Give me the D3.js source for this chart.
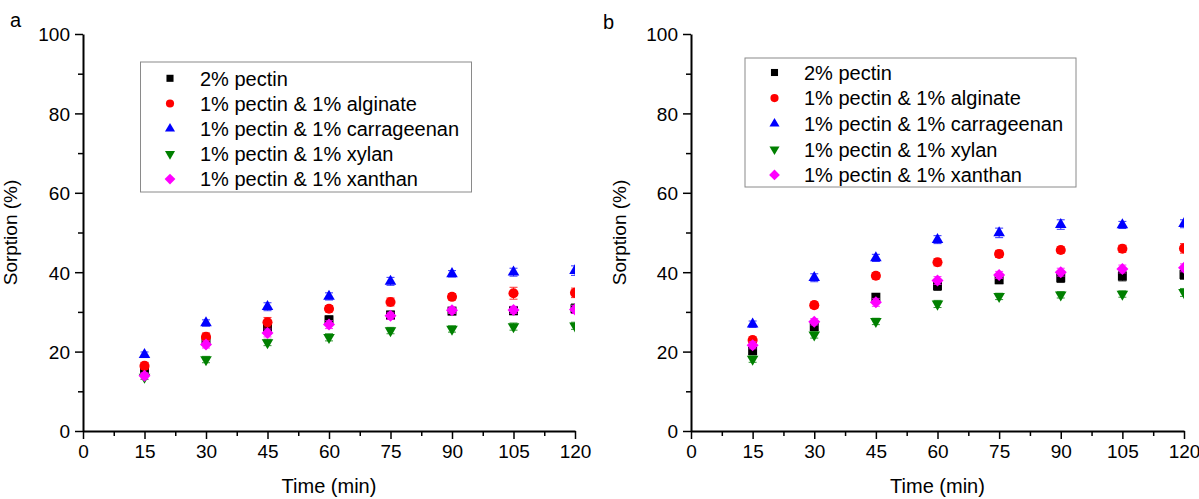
<!DOCTYPE html>
<meta charset="utf-8">
<script src="https://d3js.org/d3.v7.min.js"></script>
<style>
  body { margin: 0; background: #fff; }
  text { font-family: "Liberation Sans", Arial, sans-serif; fill: #000; }
</style>
<div id="chart"></div>
<script>

// ---- data ----
var times = [15, 30, 45, 60, 75, 90, 105, 120];
var seriesNames = ["2% pectin", "1% pectin & 1% alginate", "1% pectin & 1% carrageenan",
                   "1% pectin & 1% xylan", "1% pectin & 1% xanthan"];
var xTicks = [0, 15, 30, 45, 60, 75, 90, 105, 120];
var yTicks = [0, 20, 40, 60, 80, 100];

// panel a
var aPectin      = [15.6, 22.7, 26.1, 28.0, 29.2, 30.2, 30.3, 30.8];
var aAlginate    = [16.4, 23.7, 27.4, 30.8, 32.5, 33.8, 34.7, 34.8];
var aCarrageenan = [19.2, 27.2, 31.3, 33.9, 37.7, 39.6, 40.0, 40.4];
var aXylan       = [13.6, 18.0, 22.3, 23.6, 25.3, 25.7, 26.3, 26.5];
var aXanthan     = [13.9, 21.8, 24.7, 26.8, 29.0, 30.4, 30.5, 30.6];
var aErr = [
  [0.8, 0.9, 1.0, 1.0, 1.0, 0.9, 1.0, 1.2],
  [0.9, 1.0, 1.2, 0.8, 1.0, 0.8, 1.5, 1.2],
  [0.7, 0.8, 1.0, 0.9, 1.0, 0.8, 1.0, 1.2],
  [0.6, 0.8, 0.8, 0.9, 0.8, 0.8, 0.9, 0.9],
  [0.8, 0.9, 1.0, 1.0, 0.9, 0.8, 0.9, 1.0]
];

// panel b
var bPectin      = [20.2, 26.3, 33.7, 36.6, 38.1, 38.6, 39.0, 39.4];
var bAlginate    = [22.9, 31.7, 39.1, 42.5, 44.6, 45.6, 45.9, 46.0];
var bCarrageenan = [26.9, 38.6, 43.6, 48.2, 49.9, 52.0, 51.9, 52.2];
var bXylan       = [18.1, 24.2, 27.6, 32.0, 33.9, 34.3, 34.5, 34.9];
var bXanthan     = [21.6, 27.5, 32.4, 37.9, 39.3, 40.0, 40.8, 41.1];
var bErr = [
  [0.9, 0.9, 0.8, 1.2, 1.0, 1.2, 1.2, 1.2],
  [0.8, 0.8, 0.8, 0.9, 0.9, 0.8, 0.9, 1.2],
  [0.8, 1.0, 0.9, 1.0, 1.2, 1.2, 0.9, 1.0],
  [0.8, 0.8, 0.8, 0.9, 0.8, 0.8, 0.8, 1.0],
  [0.9, 0.8, 1.0, 1.0, 0.9, 1.0, 1.0, 1.0]
];

// ---- styling ----
var colors = ["#000000", "#ff0000", "#0000ff", "#008000", "#ff00ff"];
var shapes = ["square", "circle", "up", "down", "diamond"];

function symbolPath(shape, big) {
  if (shape === "square")  return d3.symbol(d3.symbolSquare, big ? 80 : 50)();
  if (shape === "circle")  return d3.symbol(d3.symbolCircle, big ? 80 : 52)();
  if (shape === "up" || shape === "down") return d3.symbol(d3.symbolTriangle, big ? 58 : 44)();
  return d3.symbol(d3.symbolSquare, big ? 72 : 58)();
}
function symbolRotate(shape) {
  if (shape === "down") return " rotate(180)";
  if (shape === "diamond") return " rotate(45)";
  return "";
}

var svg = d3.select("#chart").append("svg")
    .attr("width", 1199)
    .attr("height", 499);

var panels = [
  { id: "a", series: [aPectin, aAlginate, aCarrageenan, aXylan, aXanthan], err: aErr,
    x0: 83, x1: 575, labelX: 10, labelY: 27, titleX: 17,
    legend: { x: 140.5, y: 62, w: 331, h: 130, mx: 170, tx: 200, row0: 78.3, step: 25.2 } },
  { id: "b", series: [bPectin, bAlginate, bCarrageenan, bXylan, bXanthan], err: bErr,
    x0: 691, x1: 1184, labelX: 603, labelY: 29, titleX: 626,
    legend: { x: 745, y: 58, w: 331, h: 129, mx: 774.5, tx: 804, row0: 72.5, step: 25.6 } }
];

var yTop = 34, yBottom = 431;

panels.forEach(function(p) {
  var x = d3.scaleLinear().domain([0, 120]).range([p.x0, p.x1]);
  var y = d3.scaleLinear().domain([0, 100]).range([yBottom, yTop]);
  var g = svg.append("g");

  // clip to plot area
  svg.append("clipPath").attr("id", "clip-" + p.id)
    .append("rect")
      .attr("x", p.x0).attr("y", 0)
      .attr("width", p.x1 - p.x0).attr("height", yBottom + 5);

  // minor ticks
  g.append("g")
      .attr("transform", "translate(0," + yBottom + ")")
      .call(d3.axisBottom(x).tickValues(d3.range(7.5, 120, 15)).tickSize(5).tickFormat("").tickSizeOuter(0))
      .call(function(s) { s.select(".domain").remove(); s.selectAll("line").attr("stroke-width", 1.5); });
  g.append("g")
      .attr("transform", "translate(" + p.x0 + ",0)")
      .call(d3.axisLeft(y).tickValues(d3.range(10, 100, 20)).tickSize(5).tickFormat("").tickSizeOuter(0))
      .call(function(s) { s.select(".domain").remove(); s.selectAll("line").attr("stroke-width", 1.5); });

  // major axes
  var xa = g.append("g")
      .attr("transform", "translate(0," + yBottom + ")")
      .call(d3.axisBottom(x).tickValues(xTicks).tickSize(8).tickPadding(6).tickSizeOuter(0));
  var ya = g.append("g")
      .attr("transform", "translate(" + p.x0 + ",0)")
      .call(d3.axisLeft(y).tickValues(yTicks).tickSize(8).tickPadding(5).tickSizeOuter(0));
  [xa, ya].forEach(function(a) {
    a.select(".domain").attr("stroke-width", 2);
    a.selectAll("line").attr("stroke-width", 1.5);
    a.selectAll("text").attr("font-size", 19).attr("font-family", "Liberation Sans, Arial, sans-serif").attr("fill", "#000");
  });
  ya.selectAll("text").attr("dy", "0.36em");

  // axis titles
  g.append("text")
      .attr("x", (p.x0 + p.x1) / 2).attr("y", 493)
      .attr("text-anchor", "middle").attr("font-size", 20)
      .text("Time (min)");
  g.append("text")
      .attr("transform", "translate(" + p.titleX + "," + ((yTop + yBottom) / 2) + ") rotate(-90)")
      .attr("text-anchor", "middle").attr("font-size", 19)
      .text("Sorption (%)");

  // panel letter
  g.append("text")
      .attr("x", p.labelX).attr("y", p.labelY)
      .attr("font-size", 20)
      .text(p.id);

  // data
  var plot = g.append("g").attr("clip-path", "url(#clip-" + p.id + ")");
  p.series.forEach(function(vals, si) {
    var pts = times.map(function(t, i) { return { t: t, v: vals[i], e: p.err[si][i] }; });
    var sg = plot.append("g");
    var eb = sg.selectAll(".eb").data(pts).enter().append("g")
        .attr("stroke", colors[si]).attr("stroke-width", 1).attr("opacity", 0.8);
    eb.append("line")
        .attr("x1", function(d) { return x(d.t); }).attr("x2", function(d) { return x(d.t); })
        .attr("y1", function(d) { return y(d.v - d.e); }).attr("y2", function(d) { return y(d.v + d.e); });
    eb.append("line")
        .attr("x1", function(d) { return x(d.t) - 4; }).attr("x2", function(d) { return x(d.t) + 4; })
        .attr("y1", function(d) { return y(d.v + d.e); }).attr("y2", function(d) { return y(d.v + d.e); });
    eb.append("line")
        .attr("x1", function(d) { return x(d.t) - 4; }).attr("x2", function(d) { return x(d.t) + 4; })
        .attr("y1", function(d) { return y(d.v - d.e); }).attr("y2", function(d) { return y(d.v - d.e); });
    sg.selectAll(".pt").data(pts).enter().append("path")
        .attr("d", symbolPath(shapes[si], true))
        .attr("transform", function(d) { return "translate(" + x(d.t) + "," + y(d.v) + ")" + symbolRotate(shapes[si]); })
        .attr("fill", colors[si]);
  });

  // legend
  var L = p.legend;
  var lg = g.append("g");
  lg.append("rect")
      .attr("x", L.x).attr("y", L.y).attr("width", L.w).attr("height", L.h)
      .attr("fill", "#fff").attr("stroke", "#8a8a8a").attr("stroke-width", 1);
  seriesNames.forEach(function(name, i) {
    var ry = L.row0 + i * L.step;
    lg.append("path")
        .attr("d", symbolPath(shapes[i], false))
        .attr("transform", "translate(" + L.mx + "," + ry + ")" + symbolRotate(shapes[i]))
        .attr("fill", colors[i]);
    lg.append("text")
        .attr("x", L.tx).attr("y", ry).attr("dy", "0.36em")
        .attr("font-size", 20)
        .text(name);
  });
});
</script>
